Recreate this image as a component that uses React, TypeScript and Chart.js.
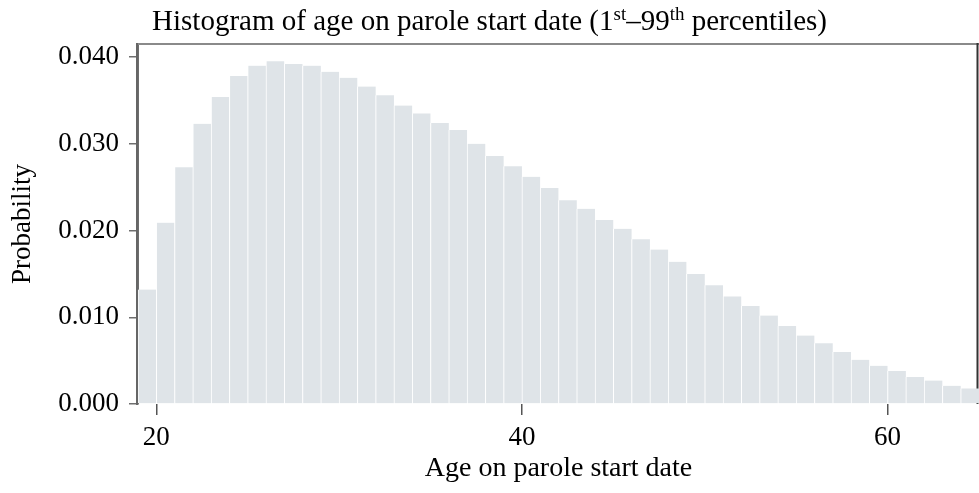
import React, { useEffect, useRef } from "react";
import { Chart, registerables } from "chart.js";

Chart.register(...registerables);

// Bin start ages (1-year bins)
const binStarts = [
  19, 20, 21, 22, 23, 24, 25, 26, 27, 28, 29, 30, 31, 32, 33, 34, 35, 36, 37, 38, 39, 40, 41,
  42, 43, 44, 45, 46, 47, 48, 49, 50, 51, 52, 53, 54, 55, 56, 57, 58, 59, 60, 61, 62, 63, 64,
];
// Probability for each bin
const probabilities = [
  0.0132, 0.0209, 0.0273, 0.0323, 0.0354, 0.0378, 0.039, 0.0395, 0.0392, 0.039, 0.0383, 0.0376,
  0.0366, 0.0356, 0.0344, 0.0335, 0.0324, 0.0316, 0.03, 0.0286, 0.0274, 0.0262, 0.0249, 0.0235,
  0.0225, 0.0212, 0.0202, 0.019, 0.0178, 0.0164, 0.015, 0.0137, 0.0124, 0.0113, 0.0102, 0.009,
  0.0079, 0.007, 0.006, 0.0051, 0.0044, 0.0038, 0.0031, 0.0027, 0.0021, 0.0018,
];
const binWidth = 1;
const xRange = [19, 65];
const yRange = [0, 0.0415];
const xTicks = [20, 40, 60];
const yTicks = [0, 0.01, 0.02, 0.03, 0.04];
const titleParts = [
  { text: "Histogram of age on parole start date (1", sup: false },
  { text: "st", sup: true },
  { text: "\u201399", sup: false },
  { text: "th", sup: true },
  { text: " percentiles)", sup: false },
];
const xTitle = "Age on parole start date";
const yTitle = "Probability";

const FONT = "'Liberation Serif', 'Times New Roman', serif";

const frameAndTitle = {
  id: "frameAndTitle",
  beforeDatasetsDraw(chart: any) {
    const { ctx, chartArea } = chart;
    const { top, left, right, bottom } = chartArea;
    ctx.save();
    ctx.strokeStyle = "#8a8a8a";
    ctx.lineWidth = 2;
    ctx.beginPath();
    ctx.moveTo(left - 2, top);
    ctx.lineTo(right, top);
    ctx.stroke();
    ctx.strokeStyle = "#333333";
    ctx.lineWidth = 2;
    ctx.beginPath();
    ctx.moveTo(right - 1.5, top - 1);
    ctx.lineTo(right - 1.5, bottom);
    ctx.stroke();
    ctx.restore();
  },
  afterDatasetsDraw(chart: any) {
    const { ctx, chartArea } = chart;
    const { top, left, bottom } = chartArea;
    ctx.save();
    ctx.strokeStyle = "#666666";
    ctx.lineWidth = 2;
    ctx.beginPath();
    ctx.moveTo(left - 1, top - 1);
    ctx.lineTo(left - 1, bottom + 1);
    ctx.stroke();
    ctx.restore();
  },
  afterDraw(chart: any) {
    const { ctx } = chart;
    const mainSize = 29;
    const supSize = 19;
    const baseY = 30;
    ctx.save();
    ctx.fillStyle = "#000";
    ctx.textBaseline = "alphabetic";
    ctx.textAlign = "left";
    const widths = titleParts.map((p) => {
      ctx.font = `${p.sup ? supSize : mainSize}px ${FONT}`;
      return ctx.measureText(p.text).width;
    });
    const total = widths.reduce((a, b) => a + b, 0);
    let x = chart.width / 2 - total / 2;
    titleParts.forEach((p, i) => {
      ctx.font = `${p.sup ? supSize : mainSize}px ${FONT}`;
      ctx.fillText(p.text, x, p.sup ? baseY - 10 : baseY);
      x += widths[i];
    });
    ctx.restore();
  },
};

export default function App() {
  const canvasRef = useRef<HTMLCanvasElement | null>(null);

  useEffect(() => {
    if (!canvasRef.current) return;
    const data = binStarts.map((b, i) => ({ x: b + binWidth / 2, y: probabilities[i] }));
    const chart = new Chart(canvasRef.current, {
      type: "bar",
      data: {
        datasets: [
          {
            data,
            backgroundColor: "#dfe4e8",
            borderColor: "#ffffff",
            borderWidth: { left: 1, right: 0, top: 0, bottom: 0 },
            borderSkipped: false,
            barPercentage: 1,
            categoryPercentage: 1,
          } as any,
        ],
      },
      options: {
        animation: false,
        responsive: true,
        maintainAspectRatio: false,
        layout: { padding: { top: 44, right: 0, left: 0, bottom: 0 } },
        plugins: {
          legend: { display: false },
          tooltip: { enabled: false },
          title: { display: false },
        },
        scales: {
          x: {
            type: "linear",
            min: xRange[0],
            max: xRange[1],
            offset: false,
            afterBuildTicks: (scale: any) => {
              scale.ticks = xTicks.map((v) => ({ value: v }));
            },
            afterFit: (scale: any) => {
              scale.height = 89;
            },
            grid: {
              display: true,
              drawOnChartArea: false,
              drawTicks: true,
              tickLength: 11,
              color: "#555555",
              lineWidth: 1.5,
              offset: false,
            },
            border: { display: false },
            ticks: {
              color: "#000",
              font: { family: FONT, size: 27 },
              padding: 7,
              maxRotation: 0,
            },
            title: {
              display: true,
              text: xTitle,
              color: "#000",
              font: { family: FONT, size: 28 },
              padding: { top: 0, bottom: 8 },
            },
          },
          y: {
            type: "linear",
            min: yRange[0],
            max: yRange[1],
            afterBuildTicks: (scale: any) => {
              scale.ticks = yTicks.map((v) => ({ value: v }));
            },
            afterFit: (scale: any) => {
              scale.width = 138;
            },
            grid: {
              display: true,
              drawOnChartArea: false,
              drawTicks: true,
              tickLength: 9,
              color: "#6e6e6e",
              lineWidth: 1.5,
            },
            border: { display: true, color: "#6e6e6e", width: 2 },
            ticks: {
              color: "#000",
              font: { family: FONT, size: 27 },
              padding: 10,
              callback: (v: any) => Number(v).toFixed(3),
            },
            title: {
              display: true,
              text: yTitle,
              color: "#000",
              font: { family: FONT, size: 27 },
              padding: { top: 7, bottom: 0 },
            },
          },
        },
      },
      plugins: [frameAndTitle],
    });
    return () => chart.destroy();
  }, []);

  return (
    <div style={{ position: "fixed", left: 0, top: 0, width: 979, height: 493, background: "#fff" }}>
      <canvas ref={canvasRef} />
    </div>
  );
}
